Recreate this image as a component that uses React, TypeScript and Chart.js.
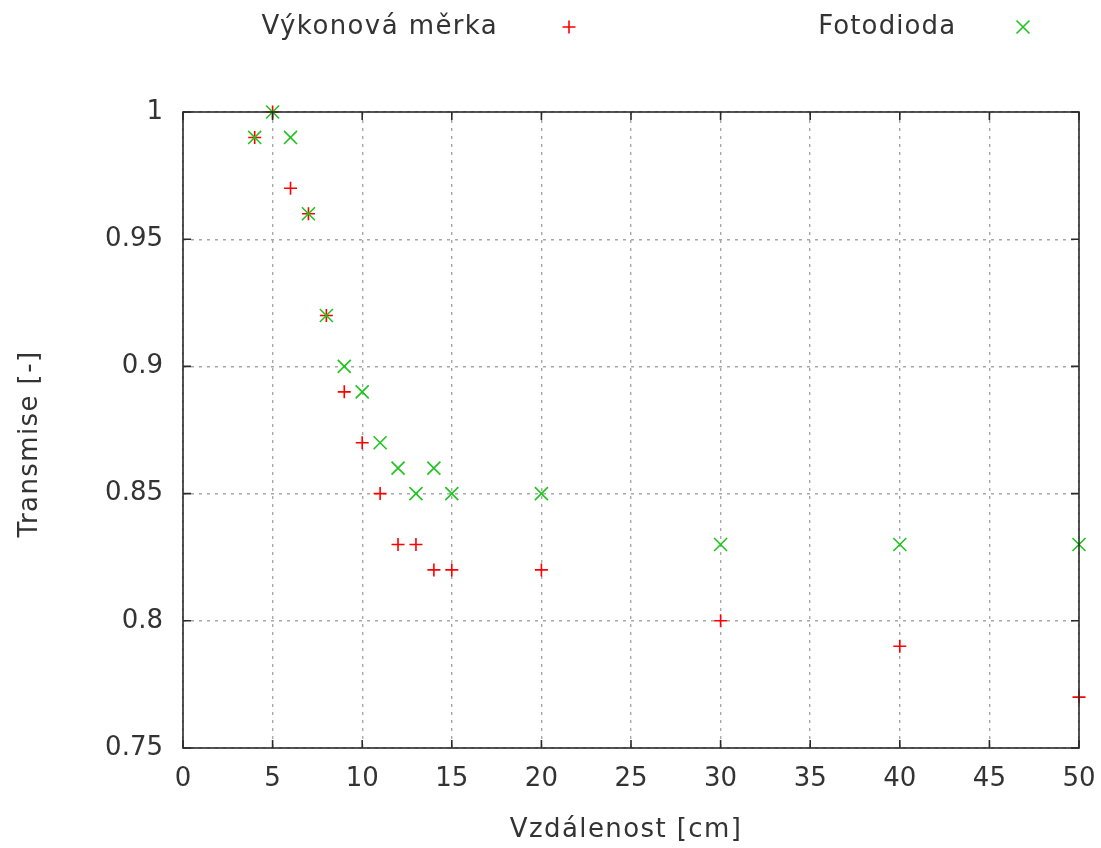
import React, { useEffect, useRef } from 'react';
import { Chart, registerables } from 'chart.js';

Chart.register(...registerables);

const distances = [4, 5, 6, 7, 8, 9, 10, 11, 12, 13, 14, 15, 20, 30, 40, 50];
const powerMeter = [0.99, 1.0, 0.97, 0.96, 0.92, 0.89, 0.87, 0.85, 0.83, 0.83, 0.82, 0.82, 0.82, 0.8, 0.79, 0.77];
const photodiode = [0.99, 1.0, 0.99, 0.96, 0.92, 0.9, 0.89, 0.87, 0.86, 0.85, 0.86, 0.85, 0.85, 0.83, 0.83, 0.83];
const seriesLabels = ['Výkonová měrka', 'Fotodioda'];
const xTickValues = [0, 5, 10, 15, 20, 25, 30, 35, 40, 45, 50];
const yTickValues = [0.75, 0.8, 0.85, 0.9, 0.95, 1];
const yTickLabels = ['0.75', '0.8', '0.85', '0.9', '0.95', '1'];
const xTitle = 'Vzdálenost [cm]';
const yTitle = 'Transmise [-]';

const RED = '#ff0000';
const GREEN = '#1fc41f';
const FONT = 'DejaVu Sans';
const TEXT = '#333333';

const framePlugin = {
  id: 'frame',
  afterDraw(chart: any) {
    const { ctx, chartArea } = chart;
    const { left, right, top, bottom } = chartArea;
    const xs = chart.scales.x;
    const ys = chart.scales.y;
    ctx.save();
    ctx.strokeStyle = '#2b2b2b';
    ctx.lineWidth = 1.6;
    ctx.strokeRect(left, top, right - left, bottom - top);
    const tl = 8;
    ctx.beginPath();
    xTickValues.forEach((v) => {
      const px = xs.getPixelForValue(v);
      ctx.moveTo(px, bottom);
      ctx.lineTo(px, bottom - tl);
      ctx.moveTo(px, top);
      ctx.lineTo(px, top + tl);
    });
    yTickValues.forEach((v) => {
      const py = ys.getPixelForValue(v);
      ctx.moveTo(left, py);
      ctx.lineTo(left + tl, py);
      ctx.moveTo(right, py);
      ctx.lineTo(right - tl, py);
    });
    ctx.stroke();

    ctx.font = `26px "${FONT}"`;
    ctx.fillStyle = TEXT;
    ctx.textBaseline = 'middle';
    (ctx as any).letterSpacing = '1.4px';

    // axis titles
    ctx.textAlign = 'center';
    ctx.fillText(xTitle, 626, 830);
    ctx.save();
    ctx.translate(30, 444);
    ctx.rotate(-Math.PI / 2);
    ctx.fillText(yTitle, 0, 0);
    ctx.restore();

    // legend (gnuplot style: text then marker)
    ctx.textAlign = 'right';
    const ly = 27;
    const entries = [
      { text: seriesLabels[0], tx: 497, mx: 569, color: RED, style: 'plus', sp: '1.4px' },
      { text: seriesLabels[1], tx: 955, mx: 1023, color: GREEN, style: 'x', sp: '1.1px' },
    ];
    entries.forEach((e) => {
      (ctx as any).letterSpacing = e.sp;
      ctx.fillText(e.text, e.tx + 1.2, ly);
      ctx.strokeStyle = e.color;
      ctx.lineWidth = 1.6;
      ctx.beginPath();
      if (e.style === 'plus') {
        ctx.moveTo(e.mx - 6.5, ly);
        ctx.lineTo(e.mx + 6.5, ly);
        ctx.moveTo(e.mx, ly - 6.5);
        ctx.lineTo(e.mx, ly + 6.5);
      } else {
        ctx.moveTo(e.mx - 6.5, ly - 6.5);
        ctx.lineTo(e.mx + 6.5, ly + 6.5);
        ctx.moveTo(e.mx - 6.5, ly + 6.5);
        ctx.lineTo(e.mx + 6.5, ly - 6.5);
      }
      ctx.stroke();
    });
    ctx.restore();
  },
};

export default function App() {
  const ref = useRef<HTMLCanvasElement | null>(null);

  useEffect(() => {
    if (!ref.current) return;
    const chart = new Chart(ref.current, {
      type: 'scatter',
      data: {
        datasets: [
          {
            label: seriesLabels[1],
            data: distances.map((d, i) => ({ x: d, y: photodiode[i] })),
            pointStyle: 'crossRot',
            pointRadius: 9.2,
            pointHoverRadius: 9.2,
            borderColor: GREEN,
            backgroundColor: GREEN,
            pointBorderWidth: 1.6,
            showLine: false,
            clip: false,
          },
          {
            label: seriesLabels[0],
            data: distances.map((d, i) => ({ x: d, y: powerMeter[i] })),
            pointStyle: 'cross',
            pointRadius: 6.5,
            pointHoverRadius: 6.5,
            borderColor: RED,
            backgroundColor: RED,
            pointBorderWidth: 1.6,
            showLine: false,
            clip: false,
          },
        ],
      },
      options: {
        animation: false,
        responsive: false,
        events: [],
        layout: { padding: { top: 112, right: 22, left: 0, bottom: 0 } },
        plugins: {
          legend: { display: false },
          tooltip: { enabled: false },
        },
        scales: {
          x: {
            type: 'linear',
            min: 0,
            max: 50,
            afterBuildTicks: (s: any) => {
              s.ticks = xTickValues.map((v) => ({ value: v }));
            },
            afterFit: (s: any) => {
              s.height = 100;
              s.paddingLeft = 0;
              s.paddingRight = 0;
            },
            grid: {
              color: '#a8a8a8',
              lineWidth: 1.4,
              drawTicks: false,
            },
            border: { display: false, dash: [3, 5] },
            ticks: {
              padding: 16,
              color: TEXT,
              font: { family: FONT, size: 26 },
              maxRotation: 0,
              autoSkip: false,
              callback: (v: any) => String(v),
            },
            title: { display: false },
          },
          y: {
            type: 'linear',
            min: 0.75,
            max: 1,
            afterBuildTicks: (s: any) => {
              s.ticks = yTickValues.map((v) => ({ value: v }));
            },
            afterFit: (s: any) => {
              s.width = 183;
              s.paddingTop = 0;
              s.paddingBottom = 0;
            },
            grid: {
              color: '#a8a8a8',
              lineWidth: 1.4,
              drawTicks: false,
            },
            border: { display: false, dash: [3, 5] },
            ticks: {
              padding: 20,
              color: TEXT,
              font: { family: FONT, size: 26 },
              autoSkip: false,
              callback: (v: any) => {
                const i = yTickValues.findIndex((t) => Math.abs(t - v) < 1e-9);
                return i >= 0 ? yTickLabels[i] : '';
              },
            },
            title: { display: false },
          },
        },
      },
      plugins: [framePlugin],
    });
    return () => chart.destroy();
  }, []);

  return (
    <div style={{ position: 'absolute', left: 0, top: 0, width: 1101, height: 848, background: '#fff' }}>
      <canvas ref={ref} width={1101} height={848} style={{ width: 1101, height: 848, display: 'block' }} />
    </div>
  );
}
